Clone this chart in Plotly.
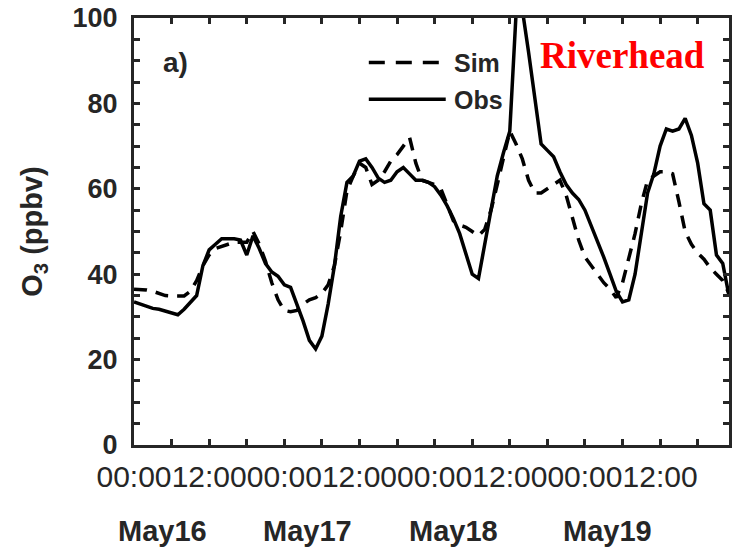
import pandas as pd
import plotly.graph_objects as go

# Hourly ozone at Riverhead, 16-19 May (ppbv)
start = "2018-05-16 00:00"
hours = pd.date_range(start, periods=96, freq="h")

obs_o3 = [
    33.5, 33.0, 32.5, 32.0, 31.8, 31.3, 30.8, 30.5, 31.8, 33.5, 35.0, 42.0,
    45.7, 47.0, 48.3, 48.3, 48.3, 48.0, 44.5, 49.0, 46.0, 42.5, 40.5, 39.5,
    37.5, 36.9, 33.0, 29.0, 24.5, 22.5, 25.5, 33.0, 42.0, 53.5, 61.5, 63.0,
    66.5, 67.0, 65.0, 62.5, 61.5, 62.0, 64.0, 65.0, 63.5, 62.0, 62.0, 61.5,
    60.5, 58.5, 56.0, 53.0, 49.5, 45.0, 40.0, 39.0, 47.0, 55.0, 63.0, 68.5,
    73.5, 101.0, 102.0, 92.0, 81.0, 70.5, 69.0, 67.5, 64.0, 61.0, 59.0, 57.5,
    55.0, 51.5, 47.5, 44.0, 40.0, 36.0, 33.5, 34.0, 40.0, 50.0, 59.0, 63.5,
    70.0, 74.0, 73.5, 74.0, 76.5, 72.5, 66.0, 56.5, 55.0, 44.5, 42.5, 35.0,
]
sim_o3 = [
    36.5, 36.5, 36.3, 36.0, 35.5, 35.0, 34.9, 34.9, 34.9, 36.0, 38.5, 42.0,
    44.5, 46.0, 46.5, 47.0, 47.5, 47.5, 47.5, 50.0, 47.0, 43.0, 38.0, 34.0,
    31.5, 31.2, 31.5, 33.0, 34.0, 34.5, 35.5, 37.5, 42.0, 50.0, 59.5, 63.0,
    66.0, 65.0, 61.0, 62.0, 64.0, 66.5, 68.0, 70.0, 72.0, 66.0, 62.0, 61.5,
    61.0, 60.0, 56.0, 52.5, 51.5, 51.0, 50.0, 49.0, 50.5, 55.0, 61.0, 67.0,
    73.5, 70.5, 67.0, 62.0, 59.0, 59.0, 60.0, 61.0, 62.0, 58.5, 53.0, 48.0,
    44.0, 42.0, 40.0, 38.0, 36.5, 34.5, 38.0, 44.0, 49.5, 56.5, 62.0, 63.0,
    64.0, 64.0, 63.5, 57.0, 50.0, 47.0, 45.0, 43.5, 41.5, 40.0, 38.5, 35.5,
]

day_labels = ["May16", "May17", "May18", "May19"]
day_label_times = ["2018-05-16 04:30", "2018-05-17 03:40",
                   "2018-05-18 03:00", "2018-05-19 03:40"]
y_ticks = [0, 20, 40, 60, 80, 100]

W, H = 735, 550
L, R, T, B = 134, 729.5, 17.5, 445.5   # plot-area edges in pixels
AX = "#262626"
SANS = "Liberation Sans, Arial, Helvetica, sans-serif"


def px_x(p):
    return (p - L) / (R - L)


def px_y(p):
    return (B - p) / (B - T)


fig = go.Figure()
fig.add_trace(go.Scatter(x=hours, y=sim_o3, mode="lines", name="Sim",
                         line=dict(color="black", width=3.5, dash="13px,9px")))
fig.add_trace(go.Scatter(x=hours, y=obs_o3, mode="lines", name="Obs",
                         line=dict(color="black", width=3.5)))

fig.update_layout(
    width=W, height=H,
    margin=dict(l=L, r=W - R, t=T, b=H - B, autoexpand=False),
    paper_bgcolor="white", plot_bgcolor="white",
    showlegend=False,
    font=dict(family=SANS, color=AX),
)

fig.update_xaxes(
    type="date",
    range=[hours[0], hours[-1]],
    tick0=start, dtick=12 * 3600 * 1000,
    tickformat="%H:%M", tickangle=0,
    ticks="inside", ticklen=6, tickwidth=2.5, tickcolor=AX,
    minor=dict(dtick=6 * 3600 * 1000, ticks="inside", ticklen=6,
               tickwidth=2.5, tickcolor=AX, showgrid=False),
    showline=True, linecolor=AX, linewidth=3, mirror="allticks",
    showgrid=False, zeroline=False,
    tickfont=dict(family=SANS, size=30, color=AX),
    ticklabelstandoff=3,
    automargin=False,
)
fig.update_yaxes(
    range=[0, 100],
    tickvals=y_ticks,
    ticks="inside", ticklen=6, tickwidth=2.5, tickcolor=AX,
    minor=dict(dtick=5, ticks="inside", ticklen=6, tickwidth=2.5,
               tickcolor=AX, showgrid=False),
    showline=True, linecolor=AX, linewidth=3, mirror="allticks",
    showgrid=False, zeroline=False,
    tickfont=dict(family=SANS, size=27, color=AX, weight="bold"),
    ticklabelstandoff=8,
    title=dict(text="O<sub>3</sub> (ppbv)",
               font=dict(family=SANS, size=29, color=AX, weight="bold"),
               standoff=22),
    automargin=False,
)

# day names under the time-of-day labels
for lab, t in zip(day_labels, day_label_times):
    fig.add_annotation(x=t, xref="x", y=px_y(532), yref="paper",
                       text=lab, showarrow=False,
                       xanchor="center", yanchor="middle",
                       font=dict(family=SANS, size=29, color=AX, weight="bold"))

# panel tag and site name
fig.add_annotation(x=px_x(176), y=px_y(62), xref="paper", yref="paper",
                   text="a)", showarrow=False, xanchor="center", yanchor="middle",
                   font=dict(family=SANS, size=28, color=AX, weight="bold"))
fig.add_annotation(x=px_x(538), y=px_y(55), xref="paper", yref="paper",
                   text="Riverhead", showarrow=False, xanchor="left", yanchor="middle",
                   font=dict(family="Liberation Serif, Times New Roman, serif",
                             size=37, color="#ff0000", weight="bold"))

# hand-drawn key: dashed = Sim, solid = Obs
key_rows = [("Sim", "16px,11px", 62), ("Obs", "solid", 99)]
for name, dash, ypix in key_rows:
    fig.add_shape(type="line", xref="paper", yref="paper",
                  x0=px_x(369), x1=px_x(446), y0=px_y(ypix), y1=px_y(ypix),
                  line=dict(color="black", width=3.5, dash=dash))
    fig.add_annotation(x=px_x(452), y=px_y(ypix + 1), xref="paper", yref="paper",
                       text=name, showarrow=False, xanchor="left", yanchor="middle",
                       font=dict(family=SANS, size=25, color=AX, weight="bold"))

fig.write_html("out.html")
